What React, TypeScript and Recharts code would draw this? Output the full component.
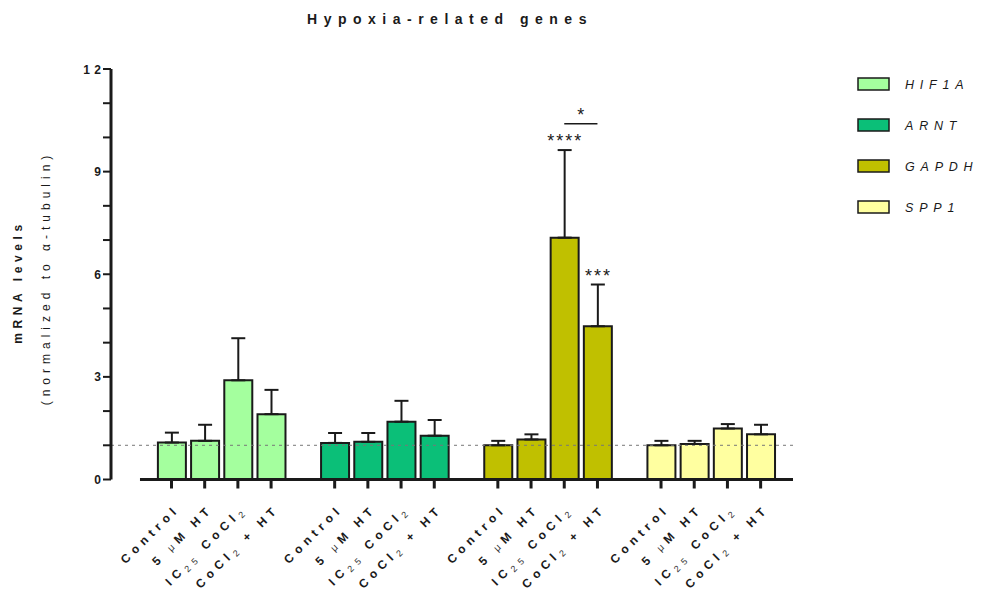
import React from 'react';
import {
  BarChart,
  Bar,
  XAxis,
  YAxis,
  ErrorBar,
  Cell,
  ReferenceLine,
  ReferenceDot,
} from 'recharts';

// ---- data -------------------------------------------------------------
const genes = ['HIF1A', 'ARNT', 'GAPDH', 'SPP1'];
const geneColors = ['#a4ff9e', '#0bbf78', '#c0c000', '#ffffa0'];
const treatments = ['Control', '5 μM HT', 'IC25 CoCl2', 'CoCl2 + HT'];

// mean mRNA level (normalized to α-tubulin) and upper SD per treatment
const hif1aMean = [1.08, 1.13, 2.9, 1.91];
const hif1aSd = [0.29, 0.47, 1.23, 0.71];
const arntMean = [1.07, 1.1, 1.69, 1.28];
const arntSd = [0.29, 0.26, 0.61, 0.46];
const gapdhMean = [1.0, 1.17, 7.07, 4.48];
const gapdhSd = [0.13, 0.15, 2.56, 1.22];
const spp1Mean = [1.0, 1.04, 1.49, 1.32];
const spp1Sd = [0.13, 0.09, 0.13, 0.28];

// significance vs control (GAPDH only) and the pairwise comparison bracket
const gapdhStars = ['', '', '****', '***'];
const bracketLabel = '*';
const bracketLevel = 10.4;

const yTicks = [0, 1, 2, 3, 4, 5, 6, 7, 8, 9, 10, 11, 12];
const yLabelEvery = 3;
const baselineLevel = 1;

// ---- layout -----------------------------------------------------------
const FONT = '"Liberation Sans", Arial, Helvetica, sans-serif';
const INK = '#1a1a1a';
const GROUP_STEP = 4.915; // distance between gene groups, in bar slots
const X_DOMAIN: [number, number] = [-1.822, 18.72];
const X_LINE_START = -0.949;

const means = [hif1aMean, arntMean, gapdhMean, spp1Mean];
const sds = [hif1aSd, arntSd, gapdhSd, spp1Sd];
const slot = (g: number, i: number) => g * GROUP_STEP + i;

const rows = genes.flatMap((gene, g) =>
  treatments.map((t, i) => ({
    x: slot(g, i),
    gene,
    treatment: t,
    colorIndex: g,
    mean: means[g][i],
    err: [0, sds[g][i]],
  }))
);
const xTicks = rows.map((r) => r.x);

// split "IC25 CoCl2" etc. into plain / subscript / small-glyph pieces
const richParts = (s: string) =>
  s.split(/(μ|(?<=IC)25|(?<=Cl)2)/).filter((p) => p.length > 0);

const RichText = ({ label }: { label: string }) => {
  const parts = richParts(label);
  let shifted = false;
  const out: React.ReactNode[] = [];
  parts.forEach((p, k) => {
    if (/^\d+$/.test(p)) {
      out.push(
        <tspan key={k} dy={shifted ? 0 : 3} fontSize={9} fontWeight="normal" fill="#333">
          {p}
        </tspan>
      );
      shifted = true;
    } else if (p === 'μ') {
      out.push(
        <tspan key={k} dy={shifted ? -3 : 0} fontSize={10} fontWeight="normal" fill="#333">
          {p}
        </tspan>
      );
      shifted = false;
    } else {
      out.push(
        <tspan key={k} dy={shifted ? -3 : 0}>
          {p}
        </tspan>
      );
      shifted = false;
    }
  });
  return <>{out}</>;
};

const XTick = (props: any) => {
  const { x, y, payload } = props;
  const idx = xTicks.indexOf(payload.value);
  const label = treatments[(idx < 0 ? 0 : idx) % treatments.length];
  return (
    <g transform={`translate(${x + 9}, ${y + 19}) rotate(-45)`}>
      <text
        textAnchor="end"
        fontFamily={FONT}
        fontSize={12}
        fontWeight="bold"
        letterSpacing={5}
        fill={INK}
      >
        <RichText label={label} />
      </text>
    </g>
  );
};

const YTick = (props: any) => {
  const { x, y, payload } = props;
  if (payload.value % yLabelEvery !== 0) return null;
  return (
    <text
      x={x + 4.5}
      y={y + 4.5}
      textAnchor="end"
      fontFamily={FONT}
      fontSize={12}
      fontWeight="bold"
      letterSpacing={4.5}
      fill={INK}
    >
      {payload.value}
    </text>
  );
};

const StarLabel = (text: string, lift: number) => (props: any) => {
  const vb = props.viewBox || {};
  const cx = (vb.x ?? 0) + (vb.width ?? 0) / 2;
  const cy = (vb.y ?? 0) + (vb.height ?? 0) / 2;
  return (
    <text
      x={cx + 1}
      y={cy - lift}
      textAnchor="middle"
      fontFamily={FONT}
      fontSize={18}
      letterSpacing={2}
      fill={INK}
    >
      {text}
    </text>
  );
};

export default function App() {
  return (
    <div style={{ position: 'absolute', left: 0, top: 0, width: 985, height: 590, background: '#fff' }}>
      <BarChart
        width={985}
        height={590}
        data={rows}
        margin={{ top: 69, right: 192, bottom: 80.5, left: 51 }}
      >
        <XAxis
          type="number"
          dataKey="x"
          domain={X_DOMAIN}
          allowDataOverflow
          ticks={xTicks}
          interval={0}
          axisLine={false}
          tickLine={{ stroke: INK, strokeWidth: 3 }}
          tickSize={9}
          tickMargin={2}
          height={30}
          tick={<XTick />}
        />
        <YAxis
          type="number"
          domain={[0, 12]}
          ticks={yTicks}
          interval={0}
          width={60}
          axisLine={{ stroke: INK, strokeWidth: 3 }}
          tickLine={{ stroke: INK, strokeWidth: 2 }}
          tickSize={8}
          tickMargin={2}
          tick={<YTick />}
        />
        <ReferenceLine
          y={baselineLevel}
          stroke="#777"
          strokeWidth={1}
          strokeDasharray="3 4"
        />
        <Bar
          dataKey="mean"
          barSize={28}
          stroke={INK}
          strokeWidth={2}
          isAnimationActive={false}
        >
          {rows.map((r, k) => (
            <Cell key={k} fill={geneColors[r.colorIndex]} />
          ))}
          <ErrorBar
            dataKey="err"
            direction="y"
            width={7}
            stroke={INK}
            strokeWidth={2}
            isAnimationActive={false}
          />
        </Bar>
        <ReferenceLine
          segment={[
            { x: X_LINE_START, y: 0 },
            { x: X_DOMAIN[1], y: 0 },
          ]}
          stroke={INK}
          strokeWidth={3}
        />
        {gapdhStars.map((s, i) =>
          s ? (
            <ReferenceDot
              key={'s' + i}
              x={slot(2, i)}
              y={gapdhMean[i] + gapdhSd[i]}
              r={0}
              fill="none"
              stroke="none"
              label={StarLabel(s, 3)}
            />
          ) : null
        )}
        <ReferenceLine
          segment={[
            { x: slot(2, 2), y: bracketLevel },
            { x: slot(2, 3), y: bracketLevel },
          ]}
          stroke={INK}
          strokeWidth={1.5}
        />
        <ReferenceDot
          x={(slot(2, 2) + slot(2, 3)) / 2}
          y={bracketLevel}
          r={0}
          fill="none"
          stroke="none"
          label={StarLabel(bracketLabel, 3)}
        />
      </BarChart>

      <svg
        width={985}
        height={590}
        style={{ position: 'absolute', left: 0, top: 0, pointerEvents: 'none' }}
      >
        <text
          x={450}
          y={24}
          textAnchor="middle"
          fontFamily={FONT}
          fontSize={14}
          fontWeight="bold"
          letterSpacing={6.5}
          fill={INK}
        >
          Hypoxia-related genes
        </text>
        <text
          transform="translate(22, 282) rotate(-90)"
          textAnchor="middle"
          fontFamily={FONT}
          fontSize={12}
          fontWeight="bold"
          letterSpacing={4.6}
          fill={INK}
        >
          mRNA levels
        </text>
        <text
          transform="translate(50, 278) rotate(-90)"
          textAnchor="middle"
          fontFamily={FONT}
          fontSize={12}
          letterSpacing={5}
          fill={INK}
        >
          (normalized to α-tubulin)
        </text>
        {genes.map((g, k) => (
          <g key={g} transform={`translate(858, ${78 + k * 41})`}>
            <rect x={0} y={0} width={31} height={12} fill={geneColors[k]} stroke={INK} strokeWidth={1.5} />
            <text
              x={47}
              y={11}
              fontFamily={FONT}
              fontSize={12.5}
              fontStyle="italic"
              letterSpacing={5.8}
              fill={INK}
            >
              {g}
            </text>
          </g>
        ))}
      </svg>
    </div>
  );
}
